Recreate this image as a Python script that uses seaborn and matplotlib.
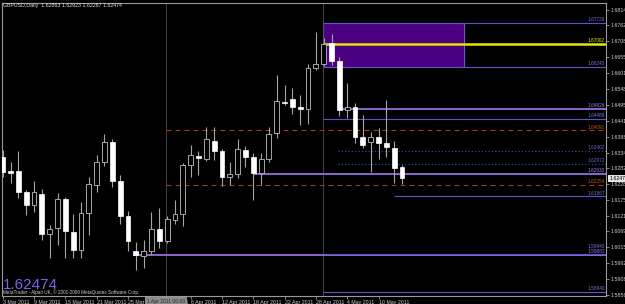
import matplotlib
matplotlib.use("Agg")
import matplotlib.pyplot as plt
import seaborn as sns
from matplotlib.patches import Rectangle

# GBPUSD daily candles, 3 Mar 2011 .. 13 May 2011
opens = [1.63205, 1.62723, 1.62733, 1.62016, 1.61567, 1.61965, 1.60610, 1.60802, 1.61770, 1.60684,
         1.60051, 1.61298, 1.62268, 1.63017, 1.63684, 1.62386, 1.61217, 1.60044, 1.59859, 1.60044,
         1.60762, 1.60374, 1.61082, 1.61268, 1.62909, 1.63229, 1.63121, 1.63741, 1.63407, 1.62511,
         1.62622, 1.63421, 1.63185, 1.62666, 1.63118, 1.63994, 1.65059, 1.65140, 1.64870, 1.64803,
         1.66178, 1.66319, 1.67047, 1.66430, 1.64779, 1.64870, 1.63859, 1.63711, 1.63879, 1.63657,
         1.63509, 1.62863]
highs = [1.63431, 1.63027, 1.63397, 1.62083, 1.62386, 1.62107, 1.60904, 1.61972, 1.61847, 1.61291,
         1.61679, 1.62521, 1.63246, 1.63970, 1.63802, 1.62589, 1.61375, 1.60341, 1.60398, 1.61342,
         1.61476, 1.61207, 1.61746, 1.62983, 1.63616, 1.63407, 1.64216, 1.64216, 1.63455, 1.63037,
         1.63792, 1.63566, 1.63320, 1.63320, 1.64216, 1.65959, 1.65622, 1.65510, 1.65285, 1.66319,
         1.67398, 1.67205, 1.67340, 1.66555, 1.65689, 1.65005, 1.64611, 1.64048, 1.64162, 1.65116,
         1.63744, 1.62923]
lows = [1.62521, 1.62329, 1.61797, 1.61224, 1.61352, 1.60398, 1.59791, 1.60246, 1.59791, 1.59808,
        1.59808, 1.60567, 1.62026, 1.62892, 1.62184, 1.60937, 1.60044, 1.59387, 1.59454, 1.59893,
        1.60128, 1.60297, 1.60937, 1.60870, 1.62531, 1.62589, 1.63060, 1.63094, 1.62218, 1.62241,
        1.62477, 1.62868, 1.61746, 1.62252, 1.63037, 1.63825, 1.64948, 1.64644, 1.64274, 1.64307,
        1.66127, 1.66262, 1.66296, 1.64577, 1.64499, 1.63657, 1.63488, 1.62700, 1.63118, 1.63205,
        1.62309, 1.62287]
closes = [1.62700, 1.62646, 1.62006, 1.61578, 1.62006, 1.60594, 1.60769, 1.61780, 1.60695, 1.60061,
          1.61298, 1.62279, 1.63017, 1.63691, 1.62396, 1.61217, 1.60374, 1.59909, 1.60044, 1.60769,
          1.60374, 1.61099, 1.61268, 1.62926, 1.63256, 1.63155, 1.63792, 1.63407, 1.62511, 1.62622,
          1.63465, 1.63195, 1.62646, 1.63138, 1.63960, 1.65082, 1.65005, 1.64890, 1.64813, 1.66184,
          1.66323, 1.67003, 1.66430, 1.64779, 1.64870, 1.63879, 1.63600, 1.63879, 1.63677, 1.63522,
          1.62835, 1.62474]

date_tick_bars = [0, 4, 8, 12, 16, 20, 24, 28, 32, 36, 40, 44, 48]
date_tick_labels = ["3 Mar 2011", "9 Mar 2011", "15 Mar 2011", "21 Mar 2011", "25 Mar 2011",
                    "31 Mar 2011", "6 Apr 2011", "12 Apr 2011", "18 Apr 2011", "22 Apr 2011",
                    "28 Apr 2011", "4 May 2011", "10 May 2011"]

price_ticks = [1.68148, 1.67628, 1.67088, 1.66555, 1.66015, 1.65488, 1.64958, 1.64418, 1.63880,
               1.63345, 1.62828, 1.62288, 1.61755, 1.61215, 1.60698, 1.60158, 1.59625, 1.59085,
               1.58560]

# horizontal line objects: price, first bar, kind
level_prices = [1.67726, 1.67002, 1.66240, 1.64826, 1.64489, 1.64091, 1.63402, 1.62972,
                1.62630, 1.62254, 1.61867, 1.59940, 1.59882, 1.58640]
level_start = [40.9, 40.9, 40.9, 42.8, 40.9, 20.85, 42.8, 42.8,
               31.97, 20.85, 50.0, 40.9, 16.6, 40.9]
level_kind = ["thin", "yellow", "thin", "purple", "thin", "red", "dot", "dot",
              "purple", "red", "thin", "thin", "purple", "thin"]

zone_low, zone_high = 1.66240, 1.67726
zone_bars = (40.9, 58.9)
vlines_bars = [20.85, 40.9]
crosshair_label = "1 Apr 2011 00:00"

bid = 1.62474
title = "GBPUSD,Daily  1.62863 1.62923 1.62287 1.62474"
copyright_txt = "MetaTrader - Alpari UK, \u00a9 2001-2009 MetaQuotes Software Corp."

styles = {
    "thin":   dict(color="#5f52cf", lw=0.8, ls="-", tc="#7b6fe0"),
    "purple": dict(color="#9370DB", lw=1.3, ls="-", tc="#8f7ce8"),
    "yellow": dict(color="#e6e600", lw=1.8, ls="-", tc="#e6e600"),
    "red":    dict(color="#a8361a", lw=0.8, ls=(0, (4.5, 3.6)), tc="#c8501e"),
    "dot":    dict(color="#4a46b0", lw=0.8, ls=(0, (1, 2)), tc="#6a64cc"),
}

sns.set_theme(style="dark", rc={"axes.facecolor": "black", "figure.facecolor": "black",
                                "axes.grid": False})
plt.rcParams["font.family"] = ["Liberation Sans", "DejaVu Sans"]

fig = plt.figure(figsize=(6.25, 3.04), dpi=100, facecolor="black")
ax = fig.add_axes([2 / 625, 8 / 304, 604 / 625, 293 / 304])
ax.set_facecolor("black")
x_right = 77.05
ax.set_xlim(-0.09, x_right)
ax.set_ylim(1.58511, 1.68385)

# zone box (behind everything)
ax.add_patch(Rectangle((zone_bars[0], zone_low), zone_bars[1] - zone_bars[0], zone_high - zone_low,
                       facecolor="#4B0082", edgecolor="#6A5ACD", lw=0.8, zorder=1))

for xv in vlines_bars:
    ax.axvline(xv, color="#4d4d4d", lw=0.6, zorder=1.5)

levels = sorted(zip(level_prices, level_start, level_kind))
prev = None
for p, s, k in levels:
    st = styles[k]
    ax.hlines(p, s, x_right, colors=st["color"], linewidth=st["lw"], linestyles=st["ls"], zorder=2)
    # labels of lines that sit very close get pushed up a little
    dy = 0.6
    if prev is not None and p - prev < 0.0008:
        dy = 3.2
    ax.annotate(f"{p:.5f}", xy=(x_right - 0.15, p), xytext=(0, dy), textcoords="offset points",
                ha="right", va="bottom", fontsize=3.4, color=st["tc"], zorder=5)
    prev = p

# candles
for i, (o, h, l, c) in enumerate(zip(opens, highs, lows, closes)):
    ax.vlines(i, l, h, colors="#a6a6a6", linewidth=0.8, zorder=3)
    bottom = min(o, c)
    height = max(abs(c - o), 0.00025)
    if c >= o:
        ax.bar(i, height, bottom=bottom, width=0.62, color="black", edgecolor="#a6a6a6",
               linewidth=0.7, zorder=4)
    else:
        ax.bar(i, height, bottom=bottom, width=0.62, color="white", edgecolor="white",
               linewidth=0.5, zorder=4)

for sp in ax.spines.values():
    sp.set_color("#9a9a9a")
    sp.set_linewidth(0.8)

ax.yaxis.tick_right()
ax.set_yticks(price_ticks)
ax.set_yticklabels([f"{v:.5f}" for v in price_ticks])
ax.tick_params(axis="y", which="both", length=2, width=0.6, color="#9a9a9a", pad=1,
               labelsize=3.8, labelcolor="#d0d0d0", right=True, left=False)
ax.set_xticks(date_tick_bars)
ax.set_xticklabels(date_tick_labels, ha="left")
ax.tick_params(axis="x", which="both", length=2, width=0.6, color="#9a9a9a", pad=0.8,
               labelsize=3.8, labelcolor="#d0d0d0", bottom=True)

# bid price marker on axis
ax.annotate(f"{bid:.5f}", xy=(1.0, bid), xycoords=("axes fraction", "data"), xytext=(2.2, 0),
            textcoords="offset points", ha="left", va="center", fontsize=3.8, color="black",
            bbox=dict(boxstyle="square,pad=0.15", fc="#e4e4e4", ec="none"), annotation_clip=False,
            zorder=6)

# crosshair date label, drawn over the date tick it hides
ax.annotate(crosshair_label, xy=(vlines_bars[0], 0), xycoords=("data", "axes fraction"),
            xytext=(0, -4.2), textcoords="offset points", ha="center", va="center", fontsize=3.6,
            color="#2a2a2a", bbox=dict(boxstyle="square,pad=0.45", fc="#8c8c8c", ec="none"),
            annotation_clip=False, zorder=7)

fig.text(3 / 625, 1 - 5.5 / 304, title, ha="left", va="center", fontsize=3.8, color="#e0e0e0")
fig.text(3 / 625, 1 - 289 / 304, f"{bid:.5f}", ha="left", va="baseline", fontsize=11,
         color="#7466e8")
fig.text(3 / 625, 1 - 292.5 / 304, copyright_txt, ha="left", va="center", fontsize=3.3,
         color="#cfcfcf")

fig.savefig("out.png", dpi=100, facecolor="black")
